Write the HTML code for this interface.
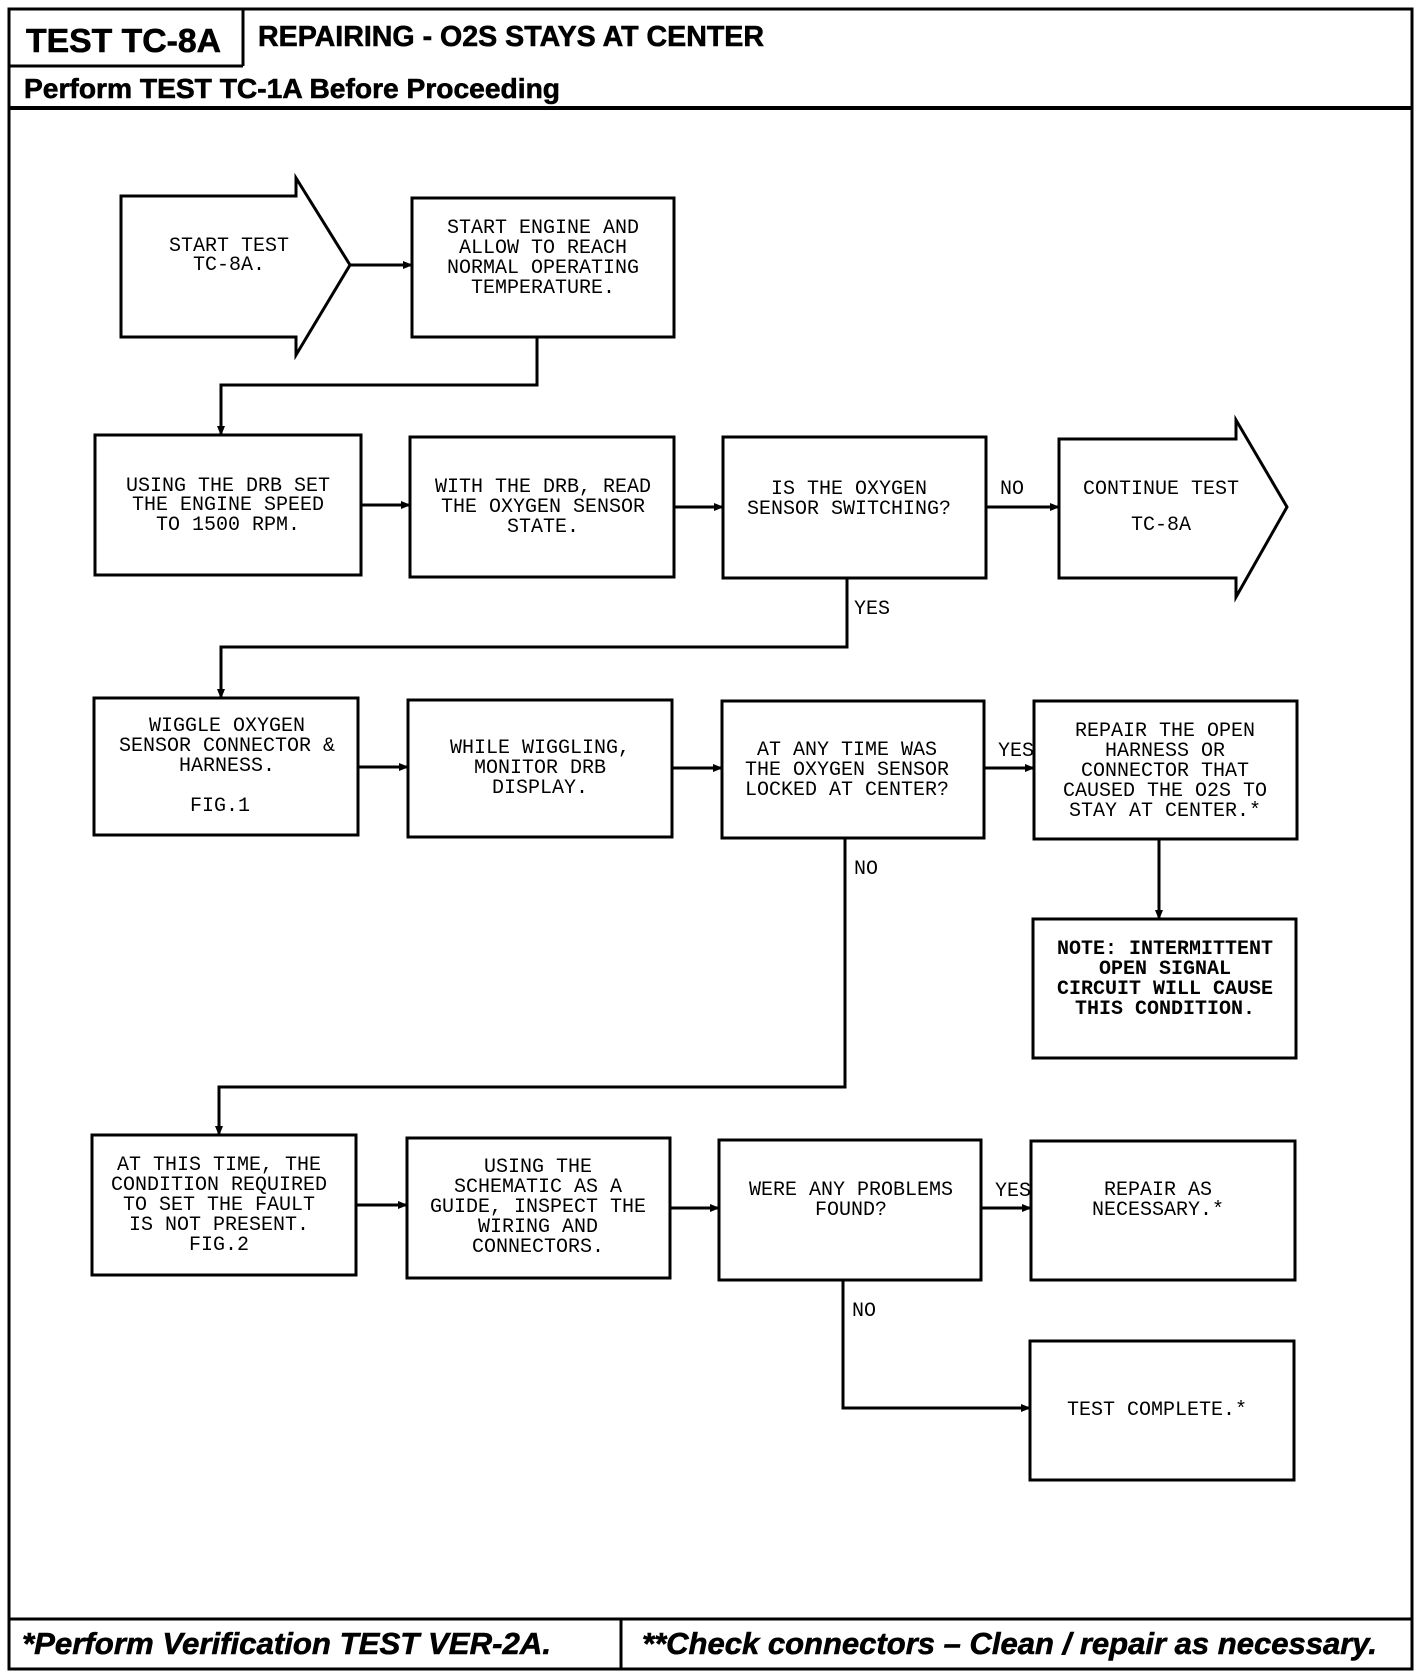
<!DOCTYPE html>
<html><head><meta charset="utf-8"><style>
html,body{margin:0;padding:0;background:#fff;}
svg{display:block;}
.t{font-family:"Liberation Mono",monospace;font-size:20px;fill:#000;text-anchor:middle;}
.b{font-weight:bold;}
.h{font-family:"Liberation Sans",sans-serif;font-weight:bold;fill:#000;stroke:#000;stroke-width:0.6;}
.i{font-family:"Liberation Sans",sans-serif;font-weight:bold;font-style:italic;fill:#000;font-size:31px;stroke:#000;stroke-width:0.6;}
.bx{fill:#fff;stroke:#000;stroke-width:3;}
.ln{fill:none;stroke:#000;stroke-width:3;}
</style></head><body>
<svg width="1424" height="1674" viewBox="0 0 1424 1674" xmlns="http://www.w3.org/2000/svg">
<defs><marker id="a" markerWidth="10" markerHeight="10" refX="9" refY="5" orient="auto" markerUnits="userSpaceOnUse"><path d="M0,1 L10,5 L0,9 Z" fill="#000"/></marker></defs>
<rect x="0" y="0" width="1424" height="1674" fill="#fff"/>
<rect x="9" y="9" width="1403" height="1660" fill="none" stroke="#000" stroke-width="3"/>
<line x1="9" y1="66" x2="243" y2="66" stroke="#000" stroke-width="3"/>
<line x1="243" y1="9" x2="243" y2="66" stroke="#000" stroke-width="3"/>
<line x1="9" y1="108" x2="1412" y2="108" stroke="#000" stroke-width="4"/>
<line x1="9" y1="1619" x2="1412" y2="1619" stroke="#000" stroke-width="3"/>
<line x1="621" y1="1619" x2="621" y2="1669" stroke="#000" stroke-width="3"/>
<text class="h" x="26" y="52" font-size="33" textLength="195" lengthAdjust="spacingAndGlyphs">TEST TC-8A</text>
<text class="h" x="258" y="46" font-size="29" textLength="506" lengthAdjust="spacingAndGlyphs">REPAIRING - O2S STAYS AT CENTER</text>
<text class="h" x="24" y="98" font-size="28" textLength="536" lengthAdjust="spacingAndGlyphs">Perform TEST TC-1A Before Proceeding</text>
<text class="i" x="22" y="1654" textLength="529" lengthAdjust="spacingAndGlyphs">*Perform Verification TEST VER-2A.</text>
<text class="i" x="642" y="1654" textLength="735" lengthAdjust="spacingAndGlyphs">**Check connectors – Clean / repair as necessary.</text>

<path class="bx" d="M121,196 L296,196 L296,178 L350,265 L296,355 L296,337 L121,337 Z"/>
<text class="t" x="229" y="251">START TEST</text>
<text class="t" x="229" y="270">TC-8A.</text>
<line class="ln" x1="350" y1="265" x2="412" y2="265" marker-end="url(#a)"/>
<rect class="bx" x="412" y="198" width="262" height="139"/>
<text class="t" x="543" y="233">START ENGINE AND</text>
<text class="t" x="543" y="253">ALLOW TO REACH</text>
<text class="t" x="543" y="273">NORMAL OPERATING</text>
<text class="t" x="543" y="293">TEMPERATURE.</text>
<path class="ln" d="M537,337 L537,385 L221,385 L221,435" marker-end="url(#a)"/>

<rect class="bx" x="95" y="435" width="266" height="140"/>
<text class="t" x="228" y="491">USING THE DRB SET</text>
<text class="t" x="228" y="510">THE ENGINE SPEED</text>
<text class="t" x="228" y="530">TO 1500 RPM.</text>
<line class="ln" x1="361" y1="505" x2="410" y2="505" marker-end="url(#a)"/>
<rect class="bx" x="410" y="437" width="264" height="140"/>
<text class="t" x="543" y="492">WITH THE DRB, READ</text>
<text class="t" x="543" y="512">THE OXYGEN SENSOR</text>
<text class="t" x="543" y="532">STATE.</text>
<line class="ln" x1="674" y1="507" x2="723" y2="507" marker-end="url(#a)"/>
<rect class="bx" x="723" y="437" width="263" height="141"/>
<text class="t" x="849" y="494">IS THE OXYGEN</text>
<text class="t" x="849" y="514">SENSOR SWITCHING?</text>
<line class="ln" x1="986" y1="507" x2="1059" y2="507" marker-end="url(#a)"/>
<text class="t" x="1012" y="494">NO</text>
<path class="bx" d="M1059,439 L1236,439 L1236,420 L1287,507 L1236,597 L1236,578 L1059,578 Z"/>
<text class="t" x="1161" y="494">CONTINUE TEST</text>
<text class="t" x="1161" y="530">TC-8A</text>
<path class="ln" d="M847,578 L847,647 L221,647 L221,698" marker-end="url(#a)"/>
<text class="t" x="872" y="614">YES</text>

<rect class="bx" x="94" y="698" width="264" height="137"/>
<text class="t" x="227" y="731">WIGGLE OXYGEN</text>
<text class="t" x="227" y="751">SENSOR CONNECTOR &amp;</text>
<text class="t" x="227" y="771">HARNESS.</text>
<text class="t" x="220" y="811">FIG.1</text>
<line class="ln" x1="358" y1="767" x2="408" y2="767" marker-end="url(#a)"/>
<rect class="bx" x="408" y="700" width="264" height="137"/>
<text class="t" x="540" y="753">WHILE WIGGLING,</text>
<text class="t" x="540" y="773">MONITOR DRB</text>
<text class="t" x="540" y="793">DISPLAY.</text>
<line class="ln" x1="672" y1="768" x2="722" y2="768" marker-end="url(#a)"/>
<rect class="bx" x="722" y="701" width="262" height="137"/>
<text class="t" x="847" y="755">AT ANY TIME WAS</text>
<text class="t" x="847" y="775">THE OXYGEN SENSOR</text>
<text class="t" x="847" y="795">LOCKED AT CENTER?</text>
<line class="ln" x1="984" y1="768" x2="1034" y2="768" marker-end="url(#a)"/>
<text class="t" x="1016" y="756">YES</text>
<rect class="bx" x="1034" y="701" width="263" height="138"/>
<text class="t" x="1165" y="736">REPAIR THE OPEN</text>
<text class="t" x="1165" y="756">HARNESS OR</text>
<text class="t" x="1165" y="776">CONNECTOR THAT</text>
<text class="t" x="1165" y="796">CAUSED THE O2S TO</text>
<text class="t" x="1165" y="816">STAY AT CENTER.*</text>
<line class="ln" x1="1159" y1="839" x2="1159" y2="919" marker-end="url(#a)"/>
<rect class="bx" x="1033" y="919" width="263" height="139"/>
<text class="t b" x="1165" y="954">NOTE: INTERMITTENT</text>
<text class="t b" x="1165" y="974">OPEN SIGNAL</text>
<text class="t b" x="1165" y="994">CIRCUIT WILL CAUSE</text>
<text class="t b" x="1165" y="1014">THIS CONDITION.</text>
<path class="ln" d="M845,838 L845,1087 L219,1087 L219,1135" marker-end="url(#a)"/>
<text class="t" x="866" y="874">NO</text>

<rect class="bx" x="92" y="1135" width="264" height="140"/>
<text class="t" x="219" y="1170">AT THIS TIME, THE</text>
<text class="t" x="219" y="1190">CONDITION REQUIRED</text>
<text class="t" x="219" y="1210">TO SET THE FAULT</text>
<text class="t" x="219" y="1230">IS NOT PRESENT.</text>
<text class="t" x="219" y="1250">FIG.2</text>
<line class="ln" x1="356" y1="1205" x2="407" y2="1205" marker-end="url(#a)"/>
<rect class="bx" x="407" y="1138" width="263" height="140"/>
<text class="t" x="538" y="1172">USING THE</text>
<text class="t" x="538" y="1192">SCHEMATIC AS A</text>
<text class="t" x="538" y="1212">GUIDE, INSPECT THE</text>
<text class="t" x="538" y="1232">WIRING AND</text>
<text class="t" x="538" y="1252">CONNECTORS.</text>
<line class="ln" x1="670" y1="1208" x2="719" y2="1208" marker-end="url(#a)"/>
<rect class="bx" x="719" y="1140" width="262" height="140"/>
<text class="t" x="851" y="1195">WERE ANY PROBLEMS</text>
<text class="t" x="851" y="1215">FOUND?</text>
<line class="ln" x1="981" y1="1208" x2="1031" y2="1208" marker-end="url(#a)"/>
<text class="t" x="1013" y="1196">YES</text>
<rect class="bx" x="1031" y="1141" width="264" height="139"/>
<text class="t" x="1158" y="1195">REPAIR AS</text>
<text class="t" x="1158" y="1215">NECESSARY.*</text>
<path class="ln" d="M843,1280 L843,1408 L1030,1408" marker-end="url(#a)"/>
<text class="t" x="864" y="1316">NO</text>
<rect class="bx" x="1030" y="1341" width="264" height="139"/>
<text class="t" x="1157" y="1415">TEST COMPLETE.*</text>
</svg>
</body></html>
